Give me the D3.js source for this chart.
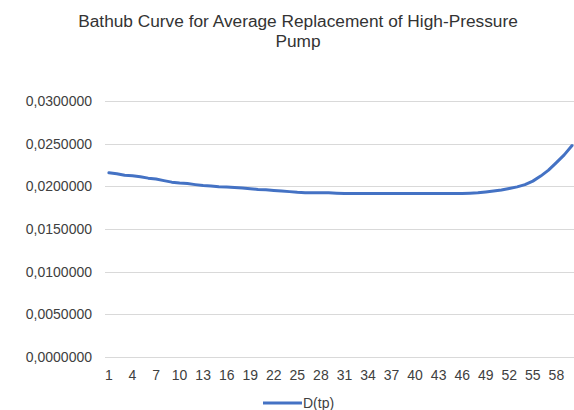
<!DOCTYPE html>
<html>
<head>
<meta charset="utf-8">
<script src="https://cdn.jsdelivr.net/npm/d3@7"></script>
<style>
  body { margin: 0; background: #fff; }
  svg { display: block; font-family: "Liberation Sans", Arial, sans-serif; }
</style>
</head>
<body>
<div id="chart"></div>
<script>
// Data
const periods = d3.range(1, 61);
const dtp = [
  0.02159, 0.02147, 0.02129, 0.02125, 0.02113, 0.02096, 0.02085, 0.02067, 0.02049, 0.02038,
  0.02032, 0.02020, 0.02009, 0.02004, 0.01996, 0.01992, 0.01986, 0.01980, 0.01972, 0.01964,
  0.01959, 0.01952, 0.01946, 0.01938, 0.01930, 0.01926, 0.01926, 0.01926, 0.01925, 0.01920,
  0.01915, 0.01915, 0.01915, 0.01915, 0.01915, 0.01915, 0.01915, 0.01915, 0.01915, 0.01915,
  0.01915, 0.01915, 0.01915, 0.01915, 0.01915, 0.01916, 0.01920, 0.01925, 0.01934, 0.01945,
  0.01958, 0.01975, 0.01994, 0.02020, 0.02061, 0.02120, 0.02190, 0.02278, 0.02369, 0.02478
];
const yTicks = [0, 0.005, 0.01, 0.015, 0.02, 0.025, 0.03];
const seriesName = 'D(tp)';
const title = ['Bathub Curve for Average Replacement of High-Pressure', 'Pump'];

const W = 574, H = 410;
const margin = { top: 101, right: -2, bottom: 53, left: 105 };

const svg = d3.select('#chart')
  .append('svg')
  .attr('width', W)
  .attr('height', H);

const x = d3.scaleBand()
  .domain(periods)
  .range([margin.left, W - margin.right])
  .padding(0);

const y = d3.scaleLinear()
  .domain([0, 0.03])
  .range([H - margin.bottom, margin.top]);

const fmt = d3.formatLocale({ decimal: ',', thousands: '.', grouping: [3], currency: ['', ''] }).format('.7f');

// gridlines
svg.append('g')
  .selectAll('line')
  .data(yTicks)
  .join('line')
  .attr('x1', margin.left)
  .attr('x2', W)
  .attr('y1', d => Math.round(y(d)) + 0.5)
  .attr('y2', d => Math.round(y(d)) + 0.5)
  .attr('stroke', '#d9d9d9')
  .attr('stroke-width', 1);

// Y axis
const yAxis = svg.append('g')
  .attr('transform', `translate(${margin.left - 13},0)`)
  .call(d3.axisLeft(y).tickValues(yTicks).tickFormat(fmt).tickSize(0).tickPadding(0));
yAxis.select('.domain').remove();
yAxis.selectAll('text')
  .attr('fill', '#404040')
  .style('font-size', '14px')
  .style('font-family', '"Liberation Sans", Arial, sans-serif');

// X axis
const xAxis = svg.append('g')
  .attr('transform', `translate(0,${H - margin.bottom + 13})`)
  .call(d3.axisBottom(x).tickValues(periods.filter((d, i) => i % 3 === 0)).tickSize(0).tickPadding(0));
xAxis.select('.domain').remove();
xAxis.selectAll('text')
  .attr('fill', '#404040')
  .style('font-size', '14px')
  .style('font-family', '"Liberation Sans", Arial, sans-serif');

// line
const line = d3.line()
  .x((d, i) => x(periods[i]) + x.bandwidth() / 2)
  .y(d => y(d));

svg.append('path')
  .datum(dtp)
  .attr('fill', 'none')
  .attr('stroke', '#4472c4')
  .attr('stroke-width', 3)
  .attr('stroke-linejoin', 'round')
  .attr('stroke-linecap', 'round')
  .attr('d', line);

// title
svg.append('text')
  .attr('x', 298)
  .attr('y', 27)
  .attr('text-anchor', 'middle')
  .attr('fill', '#333')
  .style('font-size', '17.3px')
  .selectAll('tspan')
  .data(title)
  .join('tspan')
  .attr('x', 298)
  .attr('dy', (d, i) => i === 0 ? 0 : 20)
  .text(d => d);

// legend
const legend = svg.append('g').attr('transform', 'translate(263,403)');
legend.append('line')
  .attr('x1', 0).attr('x2', 39)
  .attr('stroke', '#4472c4')
  .attr('stroke-width', 3);
legend.append('text')
  .attr('x', 40)
  .attr('y', 5)
  .attr('fill', '#404040')
  .style('font-size', '14px')
  .text(seriesName);
</script>
</body>
</html>
